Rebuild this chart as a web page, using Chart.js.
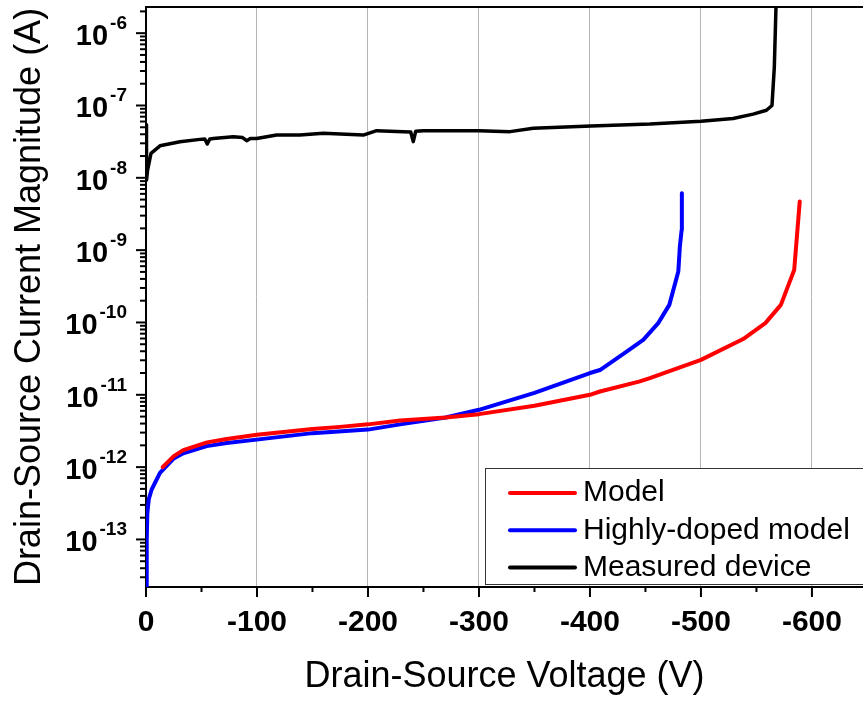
<!DOCTYPE html>
<html>
<head>
<meta charset="utf-8">
<script src="https://cdn.jsdelivr.net/npm/chart.js@4"></script>
<style>
  html, body { margin: 0; padding: 0; background: #fff; }
  canvas { display: block; }
</style>
</head>
<body>
<canvas id="myChart" width="863" height="703"></canvas>
<script>
// drain-source voltage (V) and current magnitude (A)
const modelV = [-15, -25, -33.6, -55, -72.7, -100, -150, -174.8, -200, -229, -270, -300, -350, -400, -409, -445, -454, -500, -538, -558, -572, -584, -589];
const modelI = [1.0e-12, 1.42e-12, 1.72e-12, 2.2e-12, 2.45e-12, 2.8e-12, 3.36e-12, 3.6e-12, 3.9e-12, 4.4e-12, 4.85e-12, 5.4e-12, 7.05e-12, 1.0e-11, 1.11e-11, 1.53e-11, 1.7e-11, 3.04e-11, 5.9e-11, 9.8e-11, 1.75e-10, 5.3e-10, 4.7e-9];

const dopedV = [-0.2, -0.5, -0.8, -1.2, -2.5, -5.1, -12.6, -24.6, -33.6, -54.7, -72.7, -99.7, -150, -200, -229, -270, -300, -350, -400, -409, -433, -448, -461.5, -471.5, -479.6, -481, -482.6, -482.8];
const dopedI = [1e-14, 4e-14, 1e-13, 2.3e-13, 3.6e-13, 4.9e-13, 8.3e-13, 1.3e-12, 1.55e-12, 1.95e-12, 2.15e-12, 2.4e-12, 2.95e-12, 3.3e-12, 3.9e-12, 4.85e-12, 6.2e-12, 1.06e-11, 2.0e-11, 2.2e-11, 3.96e-11, 5.75e-11, 9.8e-11, 1.75e-10, 5.05e-10, 1.12e-9, 1.9e-9, 6.1e-9];

const measuredV = [0, -0.3, -0.6, -1.5, -4.5, -12.6, -30.6, -48.6, -53, -55.2, -57.5, -60.6, -78.6, -87, -90.7, -94, -99.7, -117.7, -138.7, -159.7, -195.8, -207.8, -231.8, -238.5, -240.8, -243, -249.8, -300, -328, -348.9, -401, -454, -500, -529, -547, -559, -564, -566.1, -567.6, -568];
const measuredI = [5.4e-8, 2e-8, 9.3e-9, 1.3e-8, 2.18e-8, 2.77e-8, 3.15e-8, 3.4e-8, 3.45e-8, 2.93e-8, 3.45e-8, 3.5e-8, 3.7e-8, 3.6e-8, 3.26e-8, 3.5e-8, 3.5e-8, 3.9e-8, 3.9e-8, 4.12e-8, 3.9e-8, 4.48e-8, 4.35e-8, 4.3e-8, 3.16e-8, 4.4e-8, 4.48e-8, 4.48e-8, 4.35e-8, 4.83e-8, 5.2e-8, 5.53e-8, 6.05e-8, 6.6e-8, 7.6e-8, 8.6e-8, 1.0e-7, 3.4e-7, 2.3e-6, 3e-6];

const seriesLabels = ["Model", "Highly-doped model", "Measured device"];
const yTickExponents = [-13, -12, -11, -10, -9, -8, -7, -6];

const FONT = "'Liberation Sans', Arial, sans-serif";

function points(xs, ys) {
  return xs.map((v, i) => ({ x: v, y: ys[i] }));
}

// frame, tick marks, 10^n labels and the boxed legend
const decorations = {
  id: "decorations",
  afterDraw(chart) {
    const ctx = chart.ctx;
    const area = chart.chartArea;
    const xs = chart.scales.x;
    const ys = chart.scales.y;
    ctx.save();
    ctx.strokeStyle = "#000";
    ctx.lineWidth = 2;

    ctx.beginPath();
    ctx.moveTo(area.left - 1, area.top);
    ctx.lineTo(area.right, area.top);
    ctx.stroke();

    xs.ticks.forEach((t) => {
      const px = xs.getPixelForValue(t.value);
      const len = t.value % 100 === 0 ? 10 : 5;
      ctx.beginPath();
      ctx.moveTo(px, area.bottom);
      ctx.lineTo(px, area.bottom + len);
      ctx.stroke();
    });

    const eLo = Math.floor(Math.log10(ys.min));
    const eHi = Math.ceil(Math.log10(ys.max));
    for (let e = eLo; e <= eHi; e++) {
      for (let m = 1; m <= 9; m++) {
        const v = m * Math.pow(10, e);
        if (v < ys.min || v > ys.max) continue;
        const py = ys.getPixelForValue(v);
        const len = m === 1 ? 10 : 6;
        ctx.beginPath();
        ctx.moveTo(area.left - len, py);
        ctx.lineTo(area.left, py);
        ctx.stroke();
      }
    }

    ctx.fillStyle = "#000";
    ctx.textBaseline = "alphabetic";
    ctx.textAlign = "right";
    yTickExponents.forEach((e) => {
      const py = ys.getPixelForValue(Math.pow(10, e));
      const sup = String(e);
      ctx.font = "bold 19px " + FONT;
      const w = ctx.measureText(sup).width;
      ctx.fillText(sup, 127, py - 4);
      ctx.font = "bold 29px " + FONT;
      ctx.fillText("10", 127 - w - 2, py + 12);
    });

    // legend
    const box = { left: 485, top: 468, bottom: 584 };
    ctx.lineWidth = 1;
    ctx.strokeStyle = "#333";
    ctx.fillStyle = "#fff";
    ctx.fillRect(box.left, box.top, chart.width - box.left + 5, box.bottom - box.top);
    ctx.strokeRect(box.left + 0.5, box.top + 0.5, chart.width - box.left + 5, box.bottom - box.top);
    ctx.font = "30px " + FONT;
    ctx.textAlign = "left";
    ctx.textBaseline = "middle";
    chart.data.datasets.forEach((ds, i) => {
      const ry = 493 + i * 37.3;
      ctx.strokeStyle = ds.borderColor;
      ctx.lineWidth = 4;
      ctx.lineCap = "round";
      ctx.beginPath();
      ctx.moveTo(510, ry);
      ctx.lineTo(575, ry);
      ctx.stroke();
      ctx.fillStyle = "#000";
      ctx.fillText(ds.label, 583, ry);
    });
    ctx.restore();
  },
};

const data = {
  datasets: [
    {
      label: seriesLabels[0],
      data: points(modelV, modelI),
      borderColor: "#ff0000",
      borderWidth: 4,
    },
    {
      label: seriesLabels[1],
      data: points(dopedV, dopedI),
      borderColor: "#0000ff",
      borderWidth: 4,
    },
    {
      label: seriesLabels[2],
      data: points(measuredV, measuredI),
      borderColor: "#000000",
      borderWidth: 3.5,
    },
  ],
};

const options = {
  responsive: false,
  animation: false,
  layout: { padding: { left: 0, top: 7, right: 0, bottom: 0 } },
  elements: {
    point: { radius: 0 },
    line: { tension: 0, fill: false, borderCapStyle: "round", borderJoinStyle: "round" },
  },
  clip: 0,
  plugins: {
    legend: { display: false },
    tooltip: { enabled: false },
  },
  scales: {
    x: {
      type: "linear",
      reverse: true,
      min: -646,
      max: 0,
      afterFit: (scale) => { scale.height = 116; },
      ticks: {
        stepSize: 50,
        includeBounds: false,
        autoSkip: false,
        maxRotation: 0,
        padding: 18,
        color: "#000",
        font: { family: FONT, size: 30, weight: "bold" },
        callback: (v) => (v % 100 === 0 ? String(v) : ""),
      },
      grid: {
        drawTicks: false,
        lineWidth: 1,
        color: (c) => (c.tick && c.tick.value % 100 === 0 && c.tick.value !== 0 ? "#b4b4b4" : "rgba(0,0,0,0)"),
      },
      border: { display: true, color: "#000", width: 2 },
      title: {
        display: true,
        text: "Drain-Source Voltage (V)",
        color: "#000",
        font: { family: FONT, size: 36 },
        padding: { top: 0, bottom: 4 },
      },
    },
    y: {
      type: "logarithmic",
      min: 2.2e-14,
      max: 2.3e-6,
      afterFit: (scale) => { scale.width = 146; },
      ticks: { display: false },
      grid: { display: false },
      border: { display: true, color: "#000", width: 2 },
      title: {
        display: true,
        text: "Drain-Source Current Magnitude (A)",
        color: "#000",
        font: { family: FONT, size: 36 },
        padding: { top: 8, bottom: 0 },
      },
    },
  },
};

const ctx = document.getElementById("myChart").getContext("2d");
new Chart(ctx, {
  type: "line",
  data: data,
  options: options,
  plugins: [decorations],
});
</script>
</body>
</html>
